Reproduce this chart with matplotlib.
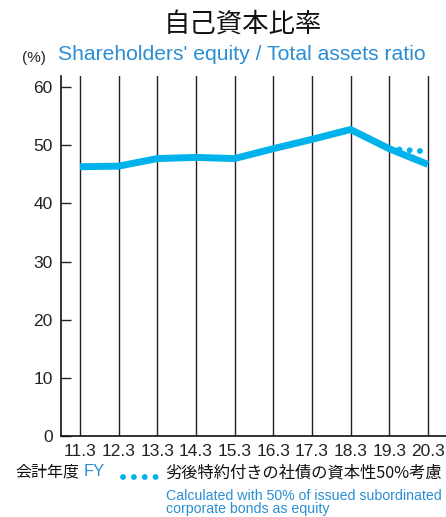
import matplotlib
matplotlib.use("Agg")
import matplotlib.pyplot as plt

categories = ["11.3", "12.3", "13.3", "14.3", "15.3", "16.3", "17.3", "18.3", "19.3", "20.3"]
ratio = [46.3, 46.4, 47.7, 47.9, 47.7, 49.4, 51.0, 52.7, 49.4, 46.7]
adj_categories = ["19.3", "20.3"]
adj_ratio = [49.4, 48.9]
yticks = [0, 10, 20, 30, 40, 50, 60]

LINE = "#00b2ec"
BLUE = "#2a8ed3"
W, H = 446, 517

plt.rcParams['font.family'] = ['Liberation Sans', 'Noto Sans CJK JP', 'DejaVu Sans']
fig = plt.figure(figsize=(W / 100, H / 100), dpi=100)
ax = fig.add_axes([61 / W, (H - 436) / H, (W - 61) / W, (436 - 76) / H])

x = list(range(len(categories)))
for xi in x:
    ax.axvline(xi, color="#222222", lw=1.0, zorder=1)

ax.plot(x, ratio, color=LINE, lw=5, solid_capstyle="butt", solid_joinstyle="miter", zorder=3)
ax_idx = [categories.index(c) for c in adj_categories]
ax.plot(ax_idx, adj_ratio, color=LINE, lw=4.2, linestyle=(0, (0.01, 1.75)),
        dash_capstyle="round", zorder=2)

ax.set_xlim(-0.49, 9.47)
ax.set_ylim(0, 61.9)
ax.set_yticks(yticks)
ax.set_xticks(x)
ax.set_xticklabels(categories)
ax.tick_params(axis="y", direction="in", length=7, width=1, labelsize=12.5, pad=6, colors="#222222")
ax.tick_params(axis="x", length=0, labelsize=12.5, pad=6, colors="#222222")
for s in ["top", "right"]:
    ax.spines[s].set_visible(False)
for s in ["left", "bottom"]:
    ax.spines[s].set_linewidth(1.2)
    ax.spines[s].set_color("#111111")

def fx(px):
    return px / W

def fy(py):
    return 1 - py / H

fig.text(fx(243), fy(24), "自己資本比率", ha="center", va="center", fontsize=19,
         family=['Noto Sans CJK JP'], color="#111111")
fig.text(fx(22), fy(62), "(%)", ha="left", va="baseline", fontsize=11, color="#222222")
fig.text(fx(58), fy(60.5), "Shareholders' equity / Total assets ratio", ha="left", va="baseline",
         fontsize=15.2, color=BLUE)

fig.text(fx(15), fy(472), "会計年度", ha="left", va="center", fontsize=11.5,
         family=['Noto Sans CJK JP'], color="#111111")
fig.text(fx(84), fy(471), "FY", ha="left", va="center", fontsize=12, color=BLUE)

leg = fig.add_axes([fx(118), fy(482), fx(45), 10 / H])
leg.set_axis_off()
leg.set_xlim(0, 1)
leg.set_ylim(0, 1)
leg.plot([0.12, 0.9], [0.5, 0.5], color=LINE, lw=4.2, linestyle=(0, (0.01, 1.85)),
         dash_capstyle="round")

fig.text(fx(165), fy(473), "劣後特約付きの社債の資本性50%考慮", ha="left", va="center",
         fontsize=11.7, family=['Noto Sans CJK JP', 'DejaVu Sans'], color="#111111")
fig.text(fx(166), fy(489), "Calculated with 50% of issued subordinated\ncorporate bonds as equity",
         ha="left", va="top", fontsize=10.2, linespacing=0.95, color=BLUE)

fig.savefig("out.png", dpi=100)
